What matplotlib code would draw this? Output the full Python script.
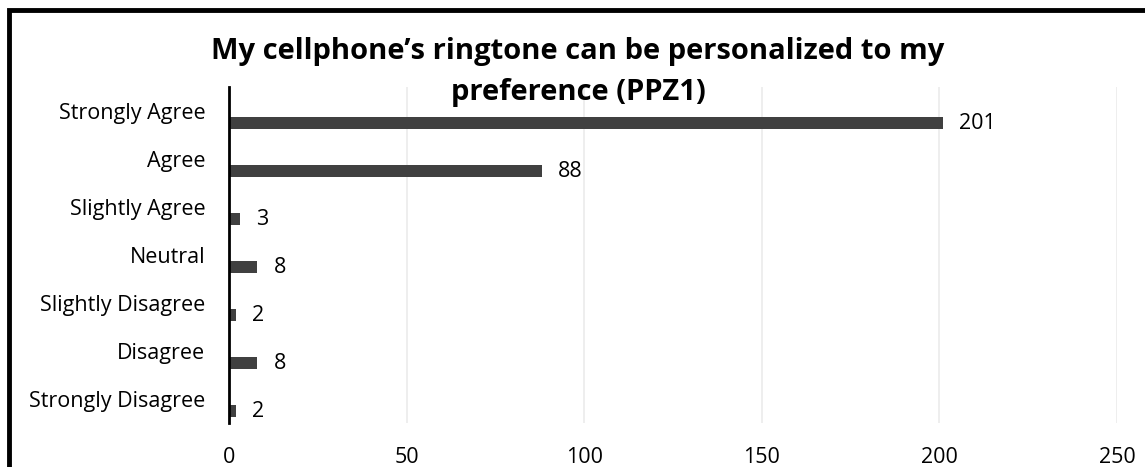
import matplotlib.pyplot as plt
from matplotlib.patches import Rectangle
import numpy as np

# Data
categories = ['Strongly Agree', 'Agree', 'Slightly Agree', 'Neutral',
              'Slightly Disagree', 'Disagree', 'Strongly Disagree']
counts = [201, 88, 3, 8, 2, 8, 2]
xticks = [0, 50, 100, 150, 200, 250]
title_lines = ['My cellphone\u2019s ringtone can be personalized to my', 'preference (PPZ1)']

plt.rcParams['font.family'] = ['Open Sans', 'DejaVu Sans']

W, H = 1145, 467
fig = plt.figure(figsize=(W / 100, H / 100), dpi=100)
ax = fig.add_axes([229 / W, 1 - 423 / H, (1117 - 229) / W, (423 - 87) / H])

pos = np.arange(len(categories))
# bars sit a quarter band below the category label
ax.barh(pos + 0.25, counts, height=0.26, color='#404040', zorder=3)
for p, c in zip(pos, counts):
    ax.text(c + 4.5, p + 0.27, str(c), va='center', ha='left', fontsize=15.5, color='#000000')

ax.set_ylim(len(categories) - 0.5, -0.5)
ax.set_yticks(pos)
ax.set_yticklabels(categories, fontsize=15.5)
ax.set_xlim(0, 250)
ax.set_xticks(xticks)
ax.set_xticklabels([str(t) for t in xticks], fontsize=15.5)
ax.tick_params(length=0)
ax.tick_params(axis='y', pad=17)
ax.tick_params(axis='x', pad=17)
ax.grid(axis='x', color='#ebebeb', linewidth=1.2, zorder=0)

for s in ['top', 'right', 'bottom']:
    ax.spines[s].set_visible(False)
ax.spines['left'].set_linewidth(2)
ax.spines['left'].set_color('#000000')
ax.spines['left'].set_zorder(4)

fig.text(578 / W, 1 - 59 / H, title_lines[0], ha='center', va='baseline', fontsize=21,
         fontweight='bold')
fig.text(578 / W, 1 - 100 / H, title_lines[1], ha='center', va='baseline', fontsize=21,
         fontweight='bold')

# outer frame, cropped on right and bottom
fig.patches.append(Rectangle((9 / W, -0.1), 1.2, 1 - 10 / H + 0.1, transform=fig.transFigure,
                             fill=False, edgecolor='black', linewidth=3.5))

fig.savefig('out.png', dpi=100)
